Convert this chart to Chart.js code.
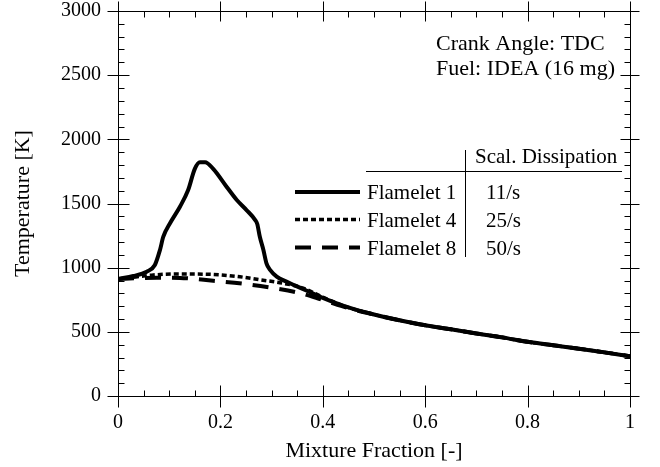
<!DOCTYPE html>
<html>
<head>
<meta charset="utf-8">
<script src="https://cdn.jsdelivr.net/npm/chart.js@4.4.1/dist/chart.umd.min.js"></script>
<style>
  html, body { margin: 0; padding: 0; background: #fff; }
  canvas { display: block; }
</style>
</head>
<body>
<canvas id="chart" width="660" height="467"></canvas>
<script>
// Temperature vs. mixture fraction for three flamelets (crank angle TDC)
const flamelet1Z = [0, 0.03, 0.056, 0.072, 0.082, 0.0885, 0.1016, 0.121, 0.137, 0.150, 0.160, 0.170, 0.186, 0.212, 0.232, 0.251, 0.268, 0.272, 0.277, 0.284, 0.290, 0.297, 0.310, 0.329, 0.345, 0.37, 0.40, 0.45, 0.5, 0.55, 0.6, 0.65, 0.7, 0.75, 0.8, 0.85, 0.9, 0.95, 1.0];
const flamelet1T = [912, 935, 969, 1021, 1138, 1241, 1346, 1475, 1605, 1770, 1822, 1822, 1770, 1631, 1527, 1449, 1371, 1340, 1241, 1138, 1034, 982, 930, 891, 862, 818, 765, 690, 635, 590, 551, 520, 487, 457, 422, 395, 369, 340, 310];

const flamelet4Z = [0, 0.03, 0.069, 0.115, 0.18, 0.232, 0.277, 0.323, 0.362, 0.40, 0.45, 0.5, 0.55, 0.6, 0.65, 0.7, 0.75, 0.8, 0.85, 0.9, 0.95, 1.0];
const flamelet4T = [912, 925, 943, 951, 948, 932, 906, 878, 840, 770, 690, 635, 590, 551, 520, 487, 457, 422, 395, 369, 340, 310];

const flamelet8Z = [0, 0.04, 0.076, 0.121, 0.186, 0.242, 0.297, 0.352, 0.40, 0.45, 0.5, 0.55, 0.6, 0.65, 0.7, 0.75, 0.8, 0.85, 0.9, 0.95, 1.0];
const flamelet8T = [912, 918, 922, 920, 898, 876, 845, 805, 748, 685, 635, 590, 551, 520, 487, 457, 422, 395, 369, 340, 310];

const seriesNames = ['Flamelet 1', 'Flamelet 4', 'Flamelet 8'];
const dissipationRates = ['11/s', '25/s', '50/s'];
const tableHeader = 'Scal. Dissipation';
const annotationLines = ['Crank Angle: TDC', 'Fuel: IDEA (16 mg)'];

const xTickValues = [0, 0.2, 0.4, 0.6, 0.8, 1];
const xTickLabels = ['0', '0.2', '0.4', '0.6', '0.8', '1'];
const yTickValues = [0, 500, 1000, 1500, 2000, 2500, 3000];
const yTickLabels = ['0', '500', '1000', '1500', '2000', '2500', '3000'];
const xMinorStep = 0.05;
const yMinorStep = 100;

const FONT = "'Liberation Serif', 'Times New Roman', serif";

function toPoints(zs, ts) {
  return zs.map((z, i) => ({ x: z, y: ts[i] }));
}

const lineStyles = [
  { borderDash: [], borderWidth: 4 },
  { borderDash: [5, 3], borderWidth: 3.5 },
  { borderDash: [16, 11], borderWidth: 4 }
];

// Box, inward minor ticks, crossing major ticks, text annotation and legend table
const framePlugin = {
  id: 'frame',
  afterDraw(chart) {
    const { ctx, chartArea: a, scales: { x, y } } = chart;
    const L = Math.round(a.left) + 0.5, R = Math.round(a.right) + 0.5;
    const T = Math.round(a.top) + 0.5, B = Math.round(a.bottom) + 0.5;
    ctx.save();
    ctx.strokeStyle = '#000';
    ctx.lineWidth = 1;
    ctx.setLineDash([]);
    ctx.beginPath();
    ctx.rect(L, T, R - L, B - T);
    // minor ticks
    for (let v = 0; v <= 1.0001; v += xMinorStep) {
      const px = Math.round(x.getPixelForValue(v)) + 0.5;
      ctx.moveTo(px, B); ctx.lineTo(px, B - 6);
      ctx.moveTo(px, T); ctx.lineTo(px, T + 6);
    }
    for (let v = 0; v <= 3000.1; v += yMinorStep) {
      const py = Math.round(y.getPixelForValue(v)) + 0.5;
      ctx.moveTo(L, py); ctx.lineTo(L + 6, py);
      ctx.moveTo(R, py); ctx.lineTo(R - 6, py);
    }
    // major ticks
    xTickValues.forEach(v => {
      const px = Math.round(x.getPixelForValue(v)) + 0.5;
      ctx.moveTo(px, B - 11); ctx.lineTo(px, B + 11);
      ctx.moveTo(px, T - 10); ctx.lineTo(px, T + 10);
    });
    yTickValues.forEach(v => {
      const py = Math.round(y.getPixelForValue(v)) + 0.5;
      ctx.moveTo(L - 11, py); ctx.lineTo(L + 11, py);
      ctx.moveTo(R - 10, py); ctx.lineTo(R + 9, py);
    });
    ctx.stroke();

    // annotation in the upper right
    ctx.fillStyle = '#000';
    ctx.font = '22px ' + FONT;
    ctx.textBaseline = 'alphabetic';
    ctx.textAlign = 'left';
    const ax = a.left + 318;
    ctx.fillText(annotationLines[0], ax, a.top + 39);
    ctx.fillText(annotationLines[1], ax, a.top + 64);

    // legend table
    const lx0 = a.left + 177, lx1 = a.left + 242;
    const rowY = [a.top + 181, a.top + 208.5, a.top + 236.5];
    const divX = Math.round(a.left + 347) + 0.5;
    const ruleY = Math.round(a.top + 160) + 0.5;
    ctx.beginPath();
    ctx.moveTo(a.left + 248, ruleY); ctx.lineTo(a.left + 504, ruleY);
    ctx.moveTo(divX, a.top + 139); ctx.lineTo(divX, a.top + 246);
    ctx.stroke();

    ctx.font = '21px ' + FONT;
    ctx.fillText(tableHeader, a.left + 357, a.top + 152);
    seriesNames.forEach((name, i) => {
      const st = lineStyles[i];
      ctx.beginPath();
      ctx.lineWidth = st.borderWidth;
      ctx.setLineDash(st.borderDash);
      ctx.moveTo(lx0, rowY[i]); ctx.lineTo(lx1, rowY[i]);
      ctx.stroke();
      ctx.fillText(name, a.left + 249, rowY[i] + 7);
      ctx.fillText(dissipationRates[i], a.left + 368, rowY[i] + 7);
    });
    ctx.restore();
  }
};

const datasets = [
  [flamelet1Z, flamelet1T],
  [flamelet4Z, flamelet4T],
  [flamelet8Z, flamelet8T]
].map(([zs, ts], i) => ({
  label: seriesNames[i],
  data: toPoints(zs, ts),
  borderColor: '#000',
  backgroundColor: '#000',
  borderWidth: lineStyles[i].borderWidth,
  borderDash: lineStyles[i].borderDash,
  borderJoinStyle: 'round',
  pointRadius: 0,
  fill: false,
  cubicInterpolationMode: 'monotone'
}));

new Chart(document.getElementById('chart'), {
  type: 'line',
  data: { datasets },
  plugins: [framePlugin],
  options: {
    responsive: false,
    animation: false,
    layout: { padding: { top: 11, right: 30, left: 0, bottom: 0 } },
    plugins: { legend: { display: false }, tooltip: { enabled: false } },
    scales: {
      x: {
        type: 'linear',
        min: 0, max: 1,
        grid: { display: false, drawTicks: false },
        border: { display: false },
        afterBuildTicks: s => { s.ticks = xTickValues.map(v => ({ value: v })); },
        afterFit: s => { s.height = 71; s.paddingLeft = 0; s.paddingRight = 0; },
        ticks: {
          autoSkip: false,
          maxRotation: 0,
          padding: 15,
          color: '#000',
          font: { family: FONT, size: 20 },
          callback: (v) => xTickLabels[xTickValues.indexOf(v)]
        },
        title: {
          display: true,
          text: 'Mixture Fraction [-]',
          color: '#000',
          font: { family: FONT, size: 22 },
          padding: { top: 0, bottom: 3 }
        }
      },
      y: {
        type: 'linear',
        min: 0, max: 3000,
        grid: { display: false, drawTicks: false },
        border: { display: false },
        afterBuildTicks: s => { s.ticks = yTickValues.map(v => ({ value: v })); },
        afterFit: s => { s.width = 118; s.paddingTop = 0; s.paddingBottom = 0; },
        ticks: {
          autoSkip: false,
          padding: 17,
          color: '#000',
          font: { family: FONT, size: 20 },
          callback: (v) => yTickLabels[yTickValues.indexOf(v)]
        },
        title: {
          display: true,
          text: 'Temperature [K]',
          color: '#000',
          font: { family: FONT, size: 22 },
          padding: { top: 10, bottom: 0 }
        }
      }
    }
  }
});
</script>
</body>
</html>
